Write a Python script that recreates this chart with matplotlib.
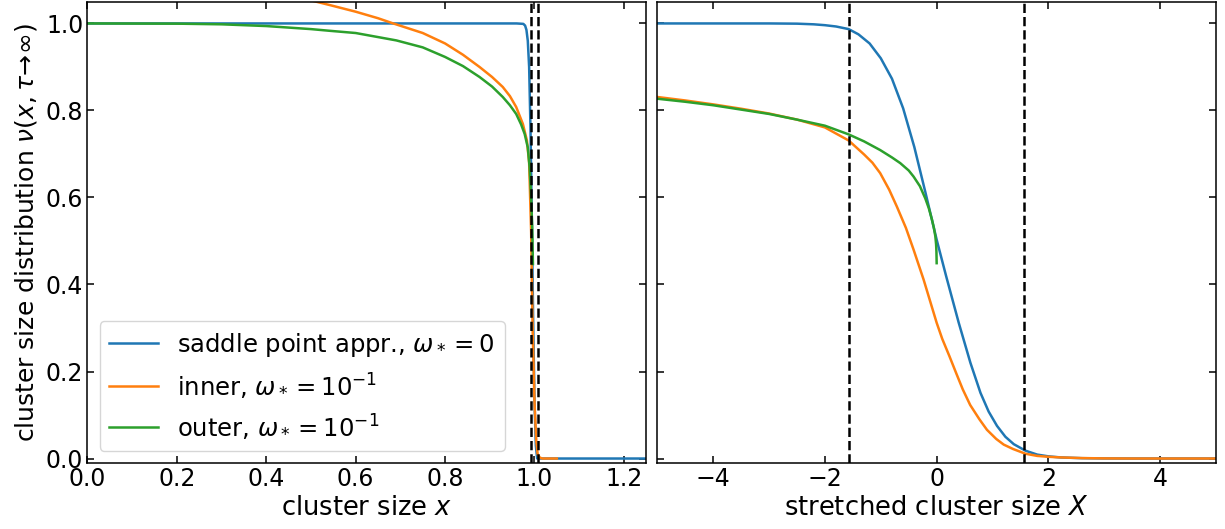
import numpy as np
import matplotlib
matplotlib.use("Agg")
import matplotlib.pyplot as plt

# ---- left panel: cluster size x ----
x_saddle = [0.0, 0.96, 0.975, 0.979, 0.982, 0.985, 0.988, 0.991, 0.994, 0.997, 1.0, 1.003, 1.006, 1.25]
nu_saddle = [1.0, 1.0, 0.999, 0.995, 0.985, 0.96, 0.90, 0.76, 0.55, 0.32, 0.13, 0.03, 0.0, 0.0]

x_inner = [0.45, 0.5, 0.543, 0.6, 0.65, 0.684, 0.75, 0.8, 0.84, 0.877, 0.905, 0.929, 0.945,
           0.959, 0.974, 0.983, 0.988, 0.9925, 0.996, 1.0, 1.004, 1.007, 1.012, 1.018, 1.05]
nu_inner = [1.066, 1.053, 1.042, 1.027, 1.012, 1.0, 0.978, 0.954, 0.928, 0.900, 0.877, 0.854, 0.833,
            0.808, 0.769, 0.731, 0.68, 0.52, 0.29, 0.13, 0.04, 0.01, 0.002, 0.0, 0.0]

x_outer = [0.0, 0.2, 0.3, 0.4, 0.5, 0.543, 0.6, 0.691, 0.75, 0.8, 0.84, 0.877, 0.905, 0.929,
           0.945, 0.959, 0.970, 0.978, 0.985, 0.989, 0.992, 0.995, 0.9965]
nu_outer = [1.0, 0.9995, 0.998, 0.994, 0.987, 0.983, 0.978, 0.961, 0.945, 0.923, 0.902, 0.877,
            0.855, 0.831, 0.812, 0.792, 0.768, 0.746, 0.715, 0.67, 0.61, 0.53, 0.447]

# ---- right panel: stretched cluster size X ----
X_saddle = [-5, -3, -2.5, -2.2, -2, -1.8, -1.575, -1.4, -1.2, -1.0, -0.8, -0.6, -0.4, -0.2,
            0, 0.17, 0.395, 0.604, 0.784, 0.93, 1.08, 1.23, 1.38, 1.59, 1.8, 2.0, 2.22, 2.6,
            3.0, 3.5, 5]
Nu_saddle = [1.0, 1.0, 0.9995, 0.998, 0.996, 0.993, 0.987, 0.975, 0.954, 0.920, 0.873, 0.805, 0.716,
             0.611, 0.503, 0.419, 0.312, 0.22, 0.151, 0.108, 0.075, 0.05, 0.033, 0.018, 0.009,
             0.005, 0.0025, 0.0008, 0.0002, 0.0, 0.0]

X_inner = [-5, -4.5, -4, -3.5, -3, -2.5, -2, -1.575, -1.3, -1.15, -1.011, -0.85, -0.712, -0.55,
           -0.413, -0.233, 0, 0.1, 0.229, 0.35, 0.467, 0.6, 0.766, 0.9, 1.066, 1.2, 1.365, 1.59,
           1.8, 2.0, 2.22, 2.6, 3, 3.5, 5]
Nu_inner = [0.831, 0.823, 0.814, 0.804, 0.793, 0.779, 0.761, 0.731, 0.699, 0.680, 0.656, 0.618,
            0.579, 0.530, 0.48, 0.411, 0.312, 0.275, 0.235, 0.196, 0.159, 0.123, 0.09, 0.066,
            0.045, 0.032, 0.022, 0.011, 0.006, 0.004, 0.0025, 0.001, 0.0003, 0.0, 0.0]

X_outer = [-5, -4.5, -4, -3.5, -3, -2.5, -2, -1.575, -1.3, -1.011, -0.8, -0.652, -0.5, -0.413,
           -0.3, -0.204, -0.14, -0.084, -0.05, -0.024, -0.01, -0.004, 0]
Nu_outer = [0.827, 0.820, 0.812, 0.802, 0.792, 0.779, 0.765, 0.745, 0.729, 0.709, 0.692, 0.679,
            0.662, 0.648, 0.626, 0.598, 0.575, 0.549, 0.530, 0.511, 0.492, 0.475, 0.449]

x_dash = [0.9914, 1.0086]
X_dash = [-np.pi / 2, np.pi / 2]

plt.rcParams['xtick.direction'] = 'in'
plt.rcParams['ytick.direction'] = 'in'
plt.rcParams['xtick.top'] = True
plt.rcParams['ytick.right'] = True
plt.rcParams['axes.linewidth'] = 1.1

fig, (ax1, ax2) = plt.subplots(1, 2, sharey=True, figsize=(12.25, 5.29), dpi=100)
fig.subplots_adjust(left=0.0714, right=0.9927, bottom=0.125, top=0.9968, wspace=0.0197)

lw = 1.8
ax1.plot(x_saddle, nu_saddle, color='C0', lw=lw, label=r'saddle point appr., $\omega_* = 0$')
ax1.plot(x_inner, nu_inner, color='C1', lw=lw, label=r'inner, $\omega_* = 10^{-1}$')
ax1.plot(x_outer, nu_outer, color='C2', lw=lw, label=r'outer, $\omega_* = 10^{-1}$')
for xd in x_dash:
    ax1.axvline(xd, color='k', ls='--', lw=1.8)

ax2.plot(X_saddle, Nu_saddle, color='C0', lw=lw)
ax2.plot(X_inner, Nu_inner, color='C1', lw=lw)
ax2.plot(X_outer, Nu_outer, color='C2', lw=lw)
for xd in X_dash:
    ax2.axvline(xd, color='k', ls='--', lw=1.8)

ax1.set_xlim(0, 1.25)
ax2.set_xlim(-5, 5)
ax1.set_ylim(-0.01, 1.05)
ax1.set_yticks([0.0, 0.2, 0.4, 0.6, 0.8, 1.0])
ax2.set_xticks([-4, -2, 0, 2, 4])

ax1.set_xlabel(r'cluster size $x$', fontsize=18.5, labelpad=3)
ax2.set_xlabel(r'stretched cluster size $X$', fontsize=18.5, labelpad=3)
ax1.set_ylabel(r'cluster size distribution $\nu(x,\tau\!\to\!\infty)$', fontsize=18, labelpad=5)

for ax in (ax1, ax2):
    ax.tick_params(labelsize=17, length=5, width=1.1, pad=3)

ax1.legend(loc='lower left', fontsize=17.5)

fig.savefig('out.png', dpi=100)
